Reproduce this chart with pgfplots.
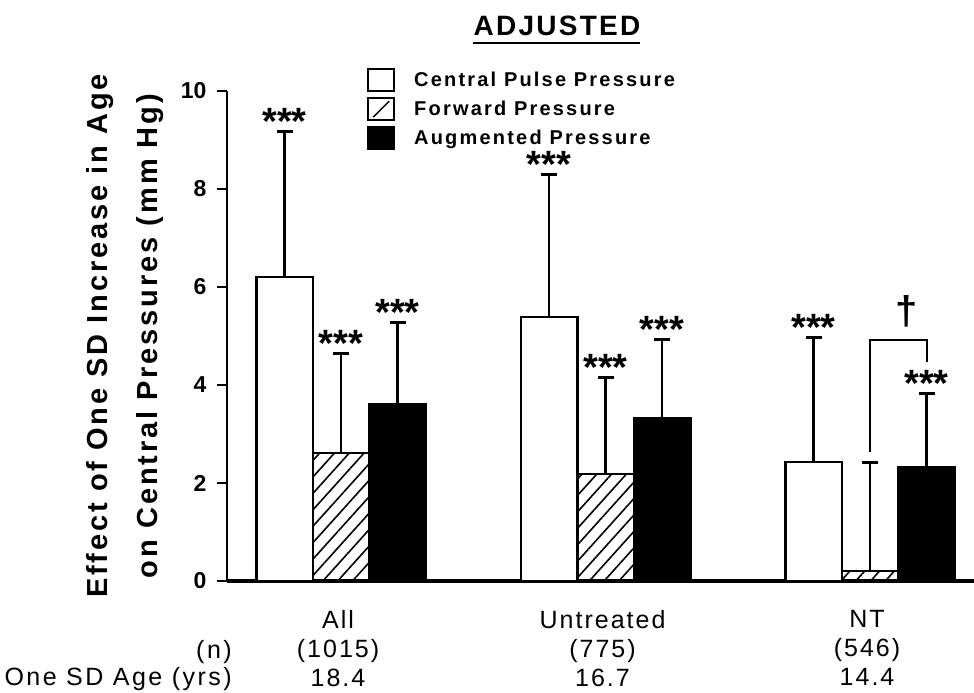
\documentclass[border=0pt]{standalone}
\usepackage{fontspec}
\setmainfont{Liberation Sans}
\usepackage{pgfplots}
\pgfplotsset{compat=1.18}
\usetikzlibrary{patterns.meta}

% bar geometry (axis units): three bars per group, groups at 0, 1, 2
\def\bw{0.2136}

\tikzset{
  stars/.style={font=\bfseries\fontsize{38}{38}\selectfont, anchor=base, yshift=-3pt, inner sep=0pt},
  hatch/.style={pattern={Lines[angle=48,distance=11pt,line width=1.6pt]}},
}
\pgfplotsset{
  sderr/.style={error bars/.cd, y dir=plus, y explicit, error mark=|,
    error bar style={line width=2.5pt}, error mark options={line width=3pt, mark size=8pt}},
}

\begin{document}
\begin{tikzpicture}
\useasboundingbox (0pt,0pt) rectangle (974pt,693pt);

\begin{axis}[
  at={(227pt,112pt)}, anchor=south west,
  scale only axis, width=747pt, height=490pt,
  xmin=-0.431, xmax=2.393, ymin=0, ymax=10,
  axis lines*=left,
  clip=false,
  tick align=outside,
  major tick length=10pt,
  ytick={0,2,...,10},
  ytick style={line width=2pt, black},
  xtick={0,1,2},
  xtick style={draw=none},
  xticklabels={{All\\(1015)\\18.4},{Untreated\\(775)\\16.7},{NT\\(546)\\14.4}},
  x axis line style={line width=3.5pt},
  y axis line style={line width=2.5pt},
  /pgf/number format/assume math mode=true,
  yticklabel style={font=\bfseries\fontsize{23}{23}\selectfont, xshift=-7pt},
  xticklabel style={align=center, xshift=-3pt, yshift=-16pt,
    font=\fontsize{25}{29}\selectfont\addfontfeatures{LetterSpace=8}},
  ylabel={Effect of One SD Increase in Age\\on Central Pressures (mm Hg)},
  ylabel style={at={(axis description cs:-0.1365,0.5)}, anchor=center, align=center,
    font=\bfseries\fontsize{29}{50}\selectfont\addfontfeatures{LetterSpace=10}},
  legend style={at={(axis description cs:0.1874,1.047)}, anchor=north west,
    draw=none, fill=none, inner sep=0pt, row sep=5pt,
    font=\bfseries\fontsize{20}{20}\selectfont\addfontfeatures{LetterSpace=11},
    /tikz/every odd column/.append style={column sep=17pt}},
  legend cell align=left,
]

% Central pulse pressure
\addplot[ybar, bar width=\bw, bar shift=0pt, fill=white, draw=black, line width=2.5pt, forget plot, sderr]
  coordinates {(-0.2136,6.20) +- (0,2.98) (0.7864,5.39) +- (0,2.90) (1.7864,2.43) +- (0,2.53)};

% Forward pressure
\addplot[ybar, bar width=\bw, bar shift=0pt, hatch, draw=black, line width=2.5pt, forget plot, sderr]
  coordinates {(0,2.61) +- (0,2.04) (1,2.18) +- (0,1.98) (2,0.20) +- (0,2.21)};

% Augmented pressure
\addplot[ybar, bar width=\bw, bar shift=0pt, fill=black, draw=black, line width=2.5pt, forget plot, sderr]
  coordinates {(0.2136,3.61) +- (0,1.66) (1.2136,3.33) +- (0,1.59) (2.2136,2.33) +- (0,1.50)};

% bracket between forward and augmented pressure in NT
\addplot[black, line width=2pt, mark=none, forget plot]
  coordinates {(2.0,2.63) (2.0,4.92) (2.2136,4.92) (2.2136,4.47)};

% legend
\addlegendimage{legend image code/.code={\draw[line width=2pt, fill=white] (0pt,-11pt) rectangle (26pt,11pt);}}
\addlegendentry{Central Pulse Pressure}
\addlegendimage{legend image code/.code={\draw[line width=2pt, fill=white] (0pt,-11pt) rectangle (26pt,11pt);
  \draw[line width=1.4pt] (5pt,-8pt) -- (21pt,8pt);}}
\addlegendentry{Forward Pressure}
\addlegendimage{legend image code/.code={\draw[line width=2pt, fill=black] (0pt,-11pt) rectangle (26pt,11pt);}}
\addlegendentry{Augmented Pressure}

% significance marks
\node[stars] at (axis cs:-0.2136,9.18) {***};
\node[stars] at (axis cs:0,4.65) {***};
\node[stars] at (axis cs:0.2136,5.27) {***};
\node[stars] at (axis cs:0.7864,8.29) {***};
\node[stars] at (axis cs:1,4.16) {***};
\node[stars] at (axis cs:1.2136,4.92) {***};
\node[stars] at (axis cs:1.7864,4.96) {***};
\node[stars] at (axis cs:2.2136,3.83) {***};
\node[font=\bfseries\fontsize{40}{40}\selectfont, anchor=base, inner sep=0pt] at (axis cs:2.14,5.24) {\char"2020};
\end{axis}

% title
\node[font=\bfseries\fontsize{28}{28}\selectfont\addfontfeatures{LetterSpace=8}, inner sep=0pt] at (557pt,667pt) {ADJUSTED};
\draw[line width=2pt] (473pt,650pt) -- (640pt,650pt);

% row headers under the categories
\node[anchor=base east, inner sep=0pt, font=\fontsize{25}{25}\selectfont\addfontfeatures{LetterSpace=10}] at (232pt,34pt) {(n)};
\node[anchor=base east, inner sep=0pt, font=\fontsize{25}{25}\selectfont\addfontfeatures{LetterSpace=10}] at (232pt,7pt) {One SD Age (yrs)};
\end{tikzpicture}
\end{document}
